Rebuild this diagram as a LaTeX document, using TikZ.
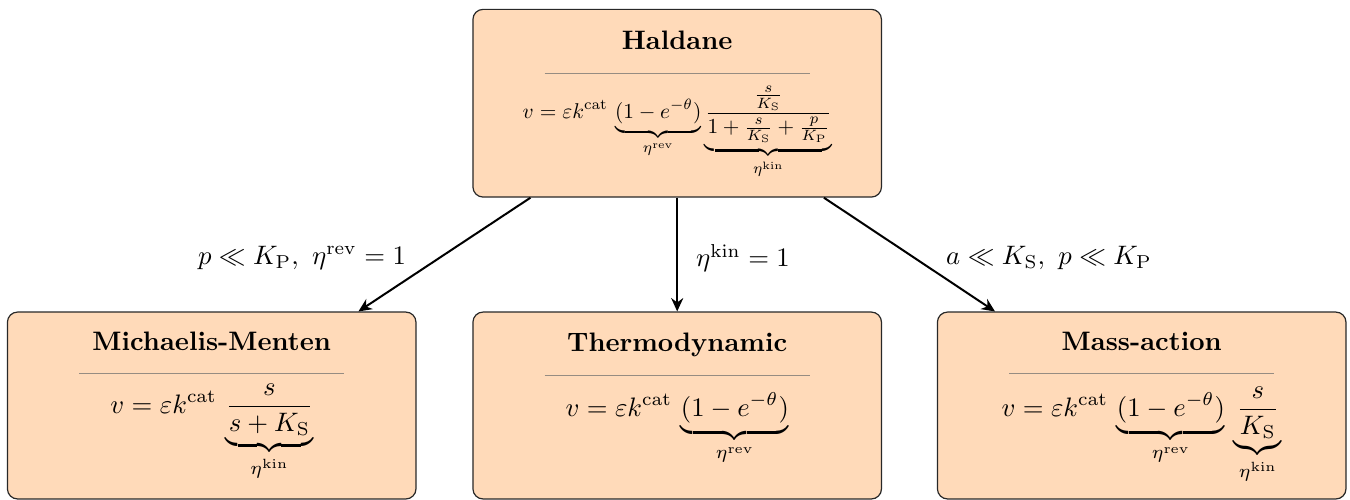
\documentclass[tikz,border=0pt]{standalone}
\usepackage{graphicx}
\usetikzlibrary{arrows.meta,calc}
\definecolor{boxfill}{RGB}{255,218,185}
\definecolor{boxedge}{RGB}{40,40,40}
\definecolor{rulegray}{RGB}{150,140,130}
\begin{document}
\begin{tikzpicture}[x=0.3745pt,y=-0.3745pt,
  modelbox/.style={draw=boxedge,fill=boxfill,rounded corners=3.8pt,line width=0.45pt,
    minimum width=153pt,inner sep=0pt},
  titletext/.style={anchor=base,font=\bfseries,inner sep=0pt},
  formula/.style={anchor=base,inner sep=0pt},
  seprule/.style={draw=rulegray,line width=0.4pt},
  conn/.style={draw=black,line width=0.75pt,-{Stealth[length=5pt,width=4.5pt]}},
  condlabel/.style={inner sep=0pt}]
\useasboundingbox (0,0) rectangle (1350,499);
% boxes
\node[modelbox,minimum height=70.3pt] (hal) at (677.2,103.2) {};
\node[modelbox,minimum height=70.0pt] (mm) at (211.7,405.5) {};
\node[modelbox,minimum height=70.0pt] (th) at (677.2,405.5) {};
\node[modelbox,minimum height=70.0pt] (ma) at (1141.7,405.5) {};
% titles
\node[titletext] (halt) at ($(hal.north)+(0,41)$) {Haldane};
\node[titletext] (mmt) at ($(mm.north)+(0,39)$) {Michaelis-Menten};
\node[titletext] (tht) at ($(th.north)+(0,40)$) {Thermodynamic};
\node[titletext] (mat) at ($(ma.north)+(0,39)$) {Mass-action};
% rules
\draw[seprule] ($(hal.north)+(-132.5,65)$) -- ($(hal.north)+(132.5,65)$);
\draw[seprule] ($(mm.north)+(-132.5,62)$) -- ($(mm.north)+(132.5,62)$);
\draw[seprule] ($(th.north)+(-132.5,64)$) -- ($(th.north)+(132.5,64)$);
\draw[seprule] ($(ma.north)+(-132.5,62)$) -- ($(ma.north)+(132.5,62)$);
% formulas
\node[formula] (half) at ($(hal.north)+(0,110)$)
  {\scalebox{0.8}{$\displaystyle v=\varepsilon k^{\mathrm{cat}}\,\underbrace{(1-e^{-\theta})}_{\eta^{\mathrm{rev}}}\underbrace{\frac{\frac{s}{K_{\mathrm{S}}}}{1+\frac{s}{K_{\mathrm{S}}}+\frac{p}{K_{\mathrm{P}}}}}_{\eta^{\mathrm{kin}}}$}};
\node[formula] (mmf) at ($(mm.north)+(0,102)$)
  {$\displaystyle v=\varepsilon k^{\mathrm{cat}}\,\underbrace{\frac{s}{s+K_{\mathrm{S}}}}_{\eta^{\mathrm{kin}}}$};
\node[formula] (thf) at ($(th.north)+(0,105)$)
  {$\displaystyle v=\varepsilon k^{\mathrm{cat}}\,\underbrace{(1-e^{-\theta})}_{\eta^{\mathrm{rev}}}$};
\node[formula] (maf) at ($(ma.north)+(0,105)$)
  {$\displaystyle v=\varepsilon k^{\mathrm{cat}}\,\underbrace{(1-e^{-\theta})}_{\eta^{\mathrm{rev}}}\,\underbrace{\frac{s}{K_{\mathrm{S}}}}_{\eta^{\mathrm{kin}}}$};
% connectors
\draw[conn] ($(hal.south west)!0.142!(hal.south east)$) -- ($(mm.north west)!0.858!(mm.north east)$);
\draw[conn] (hal.south) -- (th.north);
\draw[conn] ($(hal.south west)!0.858!(hal.south east)$) -- ($(ma.north west)!0.142!(ma.north east)$);
% labels
\node[condlabel] (l1) at (302,258) {$p \ll K_{\mathrm{P}},\ \eta^{\mathrm{rev}}=1$};
\node[condlabel] (l2) at (743,258) {$\eta^{\mathrm{kin}}=1$};
\node[condlabel] (l3) at (1049,258) {$a \ll K_{\mathrm{S}},\ p \ll K_{\mathrm{P}}$};
\end{tikzpicture}
\end{document}
